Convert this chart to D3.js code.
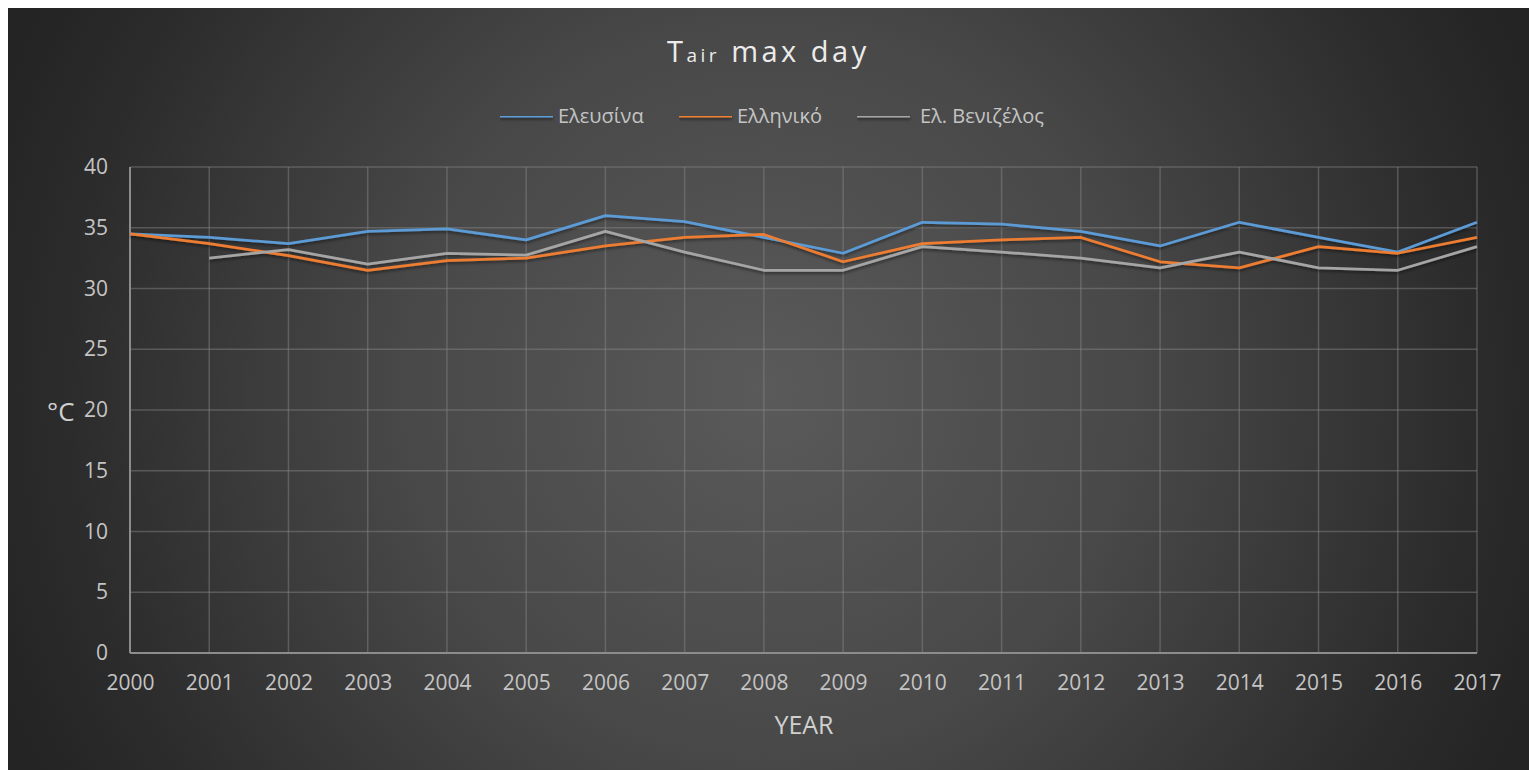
<!DOCTYPE html>
<html>
<head>
<meta charset="utf-8">
<script src="https://cdn.jsdelivr.net/npm/d3@7"></script>
<style>
  html, body { margin: 0; padding: 0; background: #ffffff; }
  svg { display: block; }
  text { font-family: "Open Sans", "Noto Sans", sans-serif; }
</style>
</head>
<body>
<svg id="chart" width="1529" height="770"></svg>
<script>
// Annual maximum daily air temperature (°C) at three Attica stations
const years = d3.range(2000, 2018);
const elefsina = [34.5, 34.2, 33.7, 34.7, 34.9, 34.0, 36.0, 35.5, 34.2, 32.9, 35.45, 35.3, 34.7, 33.5, 35.45, 34.2, 33.0, 35.45];
const elliniko = [34.5, 33.7, 32.7, 31.5, 32.3, 32.5, 33.5, 34.2, 34.45, 32.2, 33.7, 34.0, 34.2, 32.2, 31.7, 33.45, 32.9, 34.2];
const venizelos = [null, 32.5, 33.2, 32.0, 32.9, 32.75, 34.7, 33.0, 31.5, 31.5, 33.45, 33.0, 32.5, 31.7, 33.0, 31.7, 31.5, 33.45];
const seriesNames = ["Ελευσίνα", "Ελληνικό", "Ελ. Βενιζέλος"];
const seriesColors = ["#5b9bd5", "#ed7d31", "#a5a5a5"];
const yTicks = [0, 5, 10, 15, 20, 25, 30, 35, 40];

const series = [elefsina, elliniko, venizelos].map((vals, i) => ({
  name: seriesNames[i],
  color: seriesColors[i],
  values: years.map((yr, j) => ({ year: yr, v: vals[j] }))
}));

const svg = d3.select("#chart");
const W = 1529, H = 770;
const plot = { left: 130, right: 1477, top: 167, bottom: 653 };
const labelColor = "#c4c4c4";

// Background panel with radial shading
const defs = svg.append("defs");
const grad = defs.append("radialGradient")
  .attr("id", "bg").attr("gradientUnits", "userSpaceOnUse")
  .attr("cx", 768).attr("cy", 390).attr("r", 820);
grad.append("stop").attr("offset", "0%").attr("stop-color", "#5a5a5a");
grad.append("stop").attr("offset", "45%").attr("stop-color", "#484848");
grad.append("stop").attr("offset", "85%").attr("stop-color", "#2c2c2c");
grad.append("stop").attr("offset", "100%").attr("stop-color", "#242424");

// Soft drop shadow under the data lines (region in user space so flat lines keep it)
const shadow = defs.append("filter").attr("id", "shadow")
  .attr("filterUnits", "userSpaceOnUse")
  .attr("x", 0).attr("y", 0).attr("width", W).attr("height", H);
shadow.append("feDropShadow").attr("dx", 0).attr("dy", 2).attr("stdDeviation", 1.5)
  .attr("flood-color", "#000").attr("flood-opacity", 0.45);

svg.append("rect").attr("x", 8).attr("y", 8).attr("width", W - 8).attr("height", H - 8)
  .attr("fill", "url(#bg)");

const x = d3.scaleLinear().domain([2000, 2017]).range([plot.left, plot.right]);
const y = d3.scaleLinear().domain([0, 40]).range([plot.bottom, plot.top]);

// Horizontal gridlines
svg.append("g").selectAll("line").data(yTicks).join("line")
  .attr("x1", plot.left).attr("x2", plot.right)
  .attr("y1", d => y(d)).attr("y2", d => y(d))
  .attr("stroke", "#8a8a8a").attr("stroke-opacity", 0.45).attr("stroke-width", 1.5);

// Vertical gridlines
svg.append("g").selectAll("line").data(years).join("line")
  .attr("x1", d => x(d)).attr("x2", d => x(d))
  .attr("y1", plot.top).attr("y2", plot.bottom)
  .attr("stroke", "#8a8a8a").attr("stroke-opacity", 0.45).attr("stroke-width", 1.5);

// Axis lines
svg.append("line").attr("x1", plot.left).attr("x2", plot.left)
  .attr("y1", plot.top).attr("y2", plot.bottom)
  .attr("stroke", "#8c8c8c").attr("stroke-width", 2);
svg.append("line").attr("x1", plot.left).attr("x2", plot.right)
  .attr("y1", plot.bottom).attr("y2", plot.bottom)
  .attr("stroke", "#8c8c8c").attr("stroke-width", 2);

// Y tick labels
const yAxis = d3.axisLeft(y).tickValues(yTicks).tickSize(0).tickPadding(22);
const gy = svg.append("g").attr("transform", `translate(${plot.left},0)`).call(yAxis);
gy.select(".domain").remove();
gy.selectAll("text").attr("fill", labelColor).style("font-size", "21px")
  .style("font-family", "'Open Sans', 'Noto Sans', sans-serif");

// X tick labels
const xAxis = d3.axisBottom(x).tickValues(years).tickFormat(d3.format("d")).tickSize(0).tickPadding(22);
const gx = svg.append("g").attr("transform", `translate(0,${plot.bottom})`).call(xAxis);
gx.select(".domain").remove();
gx.selectAll("text").attr("fill", labelColor).style("font-size", "21px")
  .style("font-family", "'Open Sans', 'Noto Sans', sans-serif");

// Series lines
const line = d3.line().defined(d => d.v != null).x(d => x(d.year)).y(d => y(d.v));
svg.append("g").attr("filter", "url(#shadow)").selectAll("path").data(series).join("path")
  .attr("d", d => line(d.values))
  .attr("fill", "none")
  .attr("stroke", d => d.color)
  .attr("stroke-width", 2.75)
  .attr("stroke-linejoin", "round");

// Title: T with subscript "air"
const title = svg.append("text").attr("x", 667).attr("y", 62)
  .attr("fill", "#ececec")
  .style("font-size", "29px").style("letter-spacing", "3.5px");
title.append("tspan").text("T");
title.append("tspan").style("font-size", "19px").text("air");
title.append("tspan").text(" max day");

// Legend
const legendX = [500, 679, 857];
const lg = svg.append("g").selectAll("g").data(series).join("g")
  .attr("transform", (d, i) => `translate(${legendX[i]},116)`);
lg.append("line").attr("x1", 0).attr("x2", 53).attr("y1", 0).attr("y2", 0)
  .attr("filter", "url(#shadow)")
  .attr("stroke", d => d.color).attr("stroke-width", 2.75);
lg.append("text").attr("x", (d, i) => i === 2 ? 63 : 58).attr("y", 7)
  .attr("fill", labelColor).style("font-size", "20px").text(d => d.name);

// Axis titles
svg.append("text").attr("x", 47).attr("y", 421)
  .attr("fill", "#d0d0d0").style("font-size", "26px").text("°C");
svg.append("text").attr("x", 804).attr("y", 734).attr("text-anchor", "middle")
  .attr("fill", "#d0d0d0").style("font-size", "25px").text("YEAR");
</script>
</body>
</html>
